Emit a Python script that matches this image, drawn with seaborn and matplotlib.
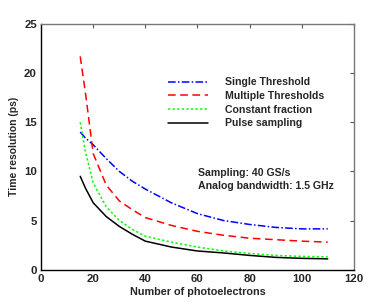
import pandas as pd
import matplotlib
matplotlib.use('Agg')
import matplotlib.pyplot as plt
import seaborn as sns

# number of photoelectrons
npe = [15, 17, 20, 25, 30, 35, 40, 50, 60, 70, 80, 90, 100, 110]

# time resolution (ps) for each method
single_thr = [14.0, 13.4, 12.7, 11.3, 10.0, 9.0, 8.2, 6.8, 5.7, 5.0, 4.6, 4.3, 4.15, 4.15]
multi_thr = [21.7, 18.0, 11.8, 8.6, 7.0, 6.1, 5.3, 4.5, 3.9, 3.5, 3.2, 3.05, 2.9, 2.8]
const_frac = [15.0, 12.0, 8.8, 6.4, 5.0, 4.1, 3.4, 2.8, 2.3, 1.9, 1.65, 1.45, 1.35, 1.3]
pulse_samp = [9.5, 8.3, 6.8, 5.4, 4.4, 3.6, 2.9, 2.3, 1.9, 1.7, 1.45, 1.25, 1.15, 1.1]

labels = ['Single Threshold', 'Multiple Thresholds', 'Constant fraction', 'Pulse sampling']
series = [single_thr, multi_thr, const_frac, pulse_samp]
colors = ['#0000ff', '#ff0000', '#00ff00', '#000000']
styles = [(0, (5, 1.5, 1, 1.5)), (0, (5, 3)), (0, (1.5, 1.5)), '-']

sns.set_style('white')
plt.rcParams['font.family'] = ['Liberation Sans', 'DejaVu Sans']
plt.rcParams['font.weight'] = 'bold'

fig = plt.figure(figsize=(3.74, 3.04), dpi=100)
ax = fig.add_axes([0.110, 0.113, 0.836, 0.808])

for lab, vals, col, ls in zip(labels, series, colors, styles):
    df = pd.DataFrame({'npe': npe, 'res': vals})
    sns.lineplot(data=df, x='npe', y='res', ax=ax, color=col, linewidth=1.1,
                 linestyle=ls, label=lab)

ax.set_xlim(0, 120)
ax.set_ylim(0, 25)
ax.set_xticks(range(0, 121, 20))
ax.set_yticks(range(0, 26, 5))
ax.tick_params(direction='in', top=True, right=True, length=3, width=0.8,
               labelsize=8.2, pad=3, color='#555555')
for lbl in ax.get_xticklabels() + ax.get_yticklabels():
    lbl.set_fontweight('bold')
for s in ['left', 'bottom']:
    ax.spines[s].set_color('black')
    ax.spines[s].set_linewidth(1.0)
for s in ['top', 'right']:
    ax.spines[s].set_color('#777777')
    ax.spines[s].set_linewidth(1.0)

ax.set_xlabel('Number of photoelectrons', fontsize=7.8, fontweight='bold', labelpad=2)
ax.set_ylabel('Time resolution (ps)', fontsize=7.5, fontweight='bold', labelpad=4)

ax.legend(loc='upper left', bbox_to_anchor=(0.449, 0.746), bbox_transform=fig.transFigure,
          frameon=False, handlelength=3.8, handletextpad=1.6,
          labelspacing=0.35, borderpad=0, borderaxespad=0,
          prop={'weight': 'bold', 'size': 7.6})

ax.text(60.3, 9.87, 'Sampling: 40 GS/s', fontsize=7.6, fontweight='bold', va='center')
ax.text(60.3, 8.55, 'Analog bandwidth: 1.5 GHz', fontsize=7.6, fontweight='bold', va='center')

fig.savefig('out.png', dpi=100, facecolor='white')
